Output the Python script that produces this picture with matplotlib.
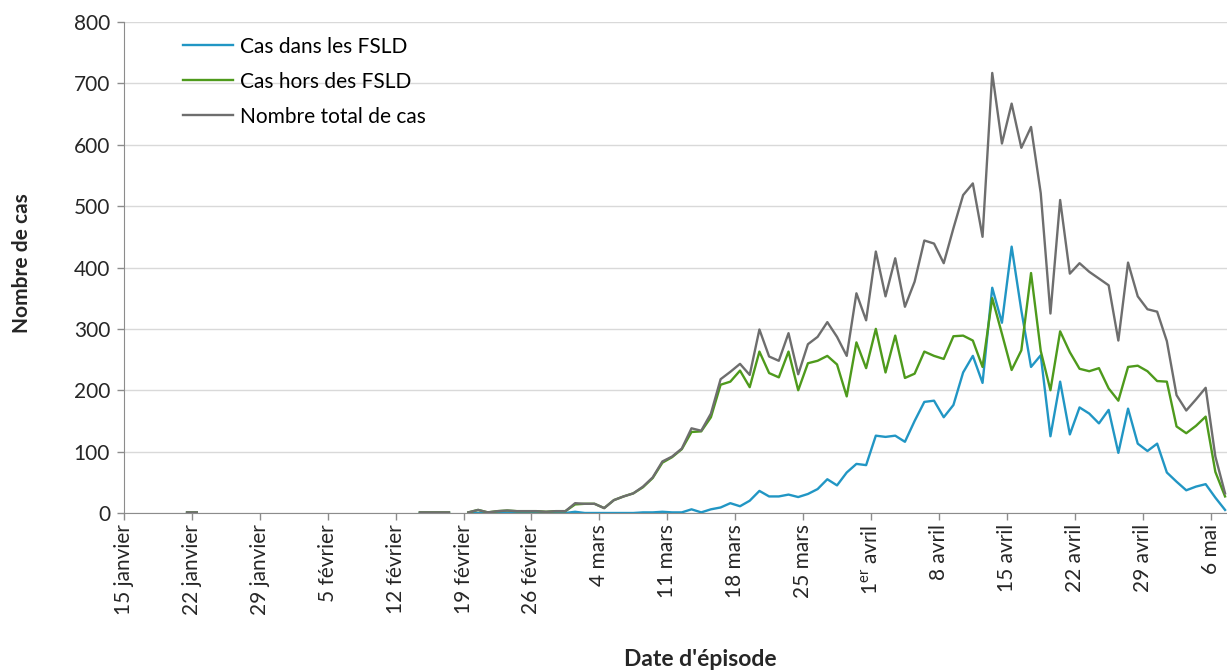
import numpy as np
import pandas as pd
import matplotlib
matplotlib.use('Agg')
from matplotlib import pyplot as plt

plt.rcParams['font.family'] = ['Lato', 'DejaVu Sans']
plt.rcParams['mathtext.default'] = 'regular'

nan = np.nan

# daily values from 21 janvier to 7 mai 2020 (nan = no case reported)
start_day = '2020-01-21'
cas_fsld = [0, 0] + [nan] * 22 + [0, 0, 0, 0] + [nan] + [
    0, 0, 0, 0, 0, 0, 0, 0, 0, 0, 0, 2, 0, 0,
    0, 0, 0, 0, 1, 1, 2, 1, 1, 6, 1, 6, 9, 16,
    11, 20, 36, 27, 27, 30, 26, 31, 39, 55, 45, 66, 80, 78,
    126, 124, 126, 116, 150, 181, 183, 156, 176, 229, 256, 212, 367, 310,
    434, 330, 238, 257, 125, 214, 128, 172, 162, 146, 168, 98, 170, 113,
    101, 113, 66, 51, 37, 43, 47, 25, 5]
cas_hors = [1, 1] + [nan] * 22 + [1, 1, 1, 1] + [nan] + [
    1, 5, 1, 3, 4, 3, 3, 3, 2, 3, 3, 14, 15, 15,
    8, 21, 27, 32, 42, 57, 82, 91, 104, 132, 133, 156, 209, 214,
    232, 205, 263, 228, 221, 263, 200, 244, 248, 256, 242, 190, 278, 236,
    300, 229, 289, 220, 227, 263, 256, 251, 288, 289, 281, 238, 350, 292,
    233, 265, 391, 264, 200, 296, 262, 235, 231, 236, 203, 183, 238, 240,
    231, 215, 214, 141, 130, 142, 157, 67, 27]
cas_total = [1, 1] + [nan] * 22 + [1, 1, 1, 1] + [nan] + [
    1, 5, 1, 3, 4, 3, 3, 3, 2, 3, 3, 16, 15, 15,
    8, 21, 27, 32, 43, 58, 84, 92, 105, 138, 134, 162, 218, 230,
    243, 225, 299, 255, 248, 293, 226, 275, 287, 311, 287, 256, 358, 314,
    426, 353, 415, 336, 377, 444, 439, 407, 464, 518, 537, 450, 717, 602,
    667, 595, 629, 521, 325, 510, 390, 407, 393, 382, 371, 281, 408, 353,
    332, 328, 280, 192, 167, 185, 204, 92, 32]

tick_labels = ['15 janvier', '22 janvier', '29 janvier', '5 février', '12 février',
               '19 février', '26 février', '4 mars', '11 mars', '18 mars', '25 mars',
               '1$^{er}$ avril', '8 avril', '15 avril', '22 avril', '29 avril', '6 mai']

dates = pd.date_range(start_day, periods=len(cas_total), freq='D') + pd.Timedelta(hours=12)
tick_dates = pd.date_range('2020-01-15', periods=len(tick_labels), freq='7D')

fig = plt.figure(figsize=(12.27, 6.71), dpi=100)
ax = fig.add_axes([124 / 1227, 1 - 513 / 671, 1 - 124 / 1227, (513 - 22) / 671])

ax.plot(dates, cas_fsld, color='#2196c4', lw=1.7, label='Cas dans les FSLD')
ax.plot(dates, cas_hors, color='#4e9a1c', lw=1.7, label='Cas hors des FSLD')
ax.plot(dates, cas_total, color='#6e6e6e', lw=1.7, label='Nombre total de cas')

ax.set_ylim(0, 800)
ax.set_yticks(range(0, 801, 100))
ax.set_xlim(pd.Timestamp('2020-01-15'), pd.Timestamp('2020-01-15') + pd.Timedelta(days=113.7))
ax.set_xticks(tick_dates)
ax.set_xticklabels(tick_labels, rotation=90)

ax.grid(axis='y', color='#d9d9d9', lw=1)
ax.set_axisbelow(True)
for s in ['top', 'right']:
    ax.spines[s].set_visible(False)
for s in ['left', 'bottom']:
    ax.spines[s].set_color('#8c8c8c')
ax.tick_params(axis='both', colors='#8c8c8c', labelcolor='#262626', labelsize=15,
               length=5, width=1, direction='out')
ax.tick_params(axis='x', pad=3)
ax.tick_params(axis='y', pad=5)

ax.legend(loc='upper left', bbox_to_anchor=(0.046, 0.987), frameon=False, fontsize=15,
          handlelength=2.4, handletextpad=0.35, labelspacing=0.72, borderaxespad=0)

fig.text(22 / 1227, 1 - 263 / 671, 'Nombre de cas', rotation=90, ha='center', va='center',
         fontsize=15, fontweight='bold', color='#262626')
fig.text(700 / 1227, 1 - 660 / 671, "Date d'épisode", ha='center', va='center',
         fontsize=16.5, fontweight='bold', color='#262626')

fig.savefig('out.png', dpi=100)
